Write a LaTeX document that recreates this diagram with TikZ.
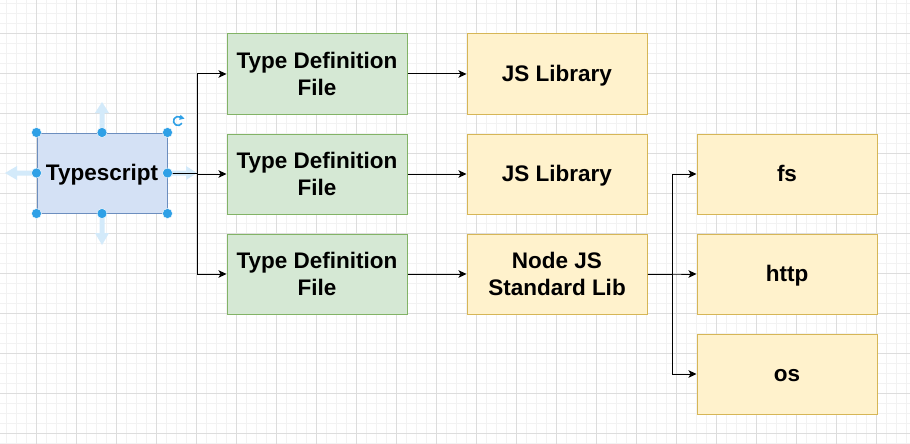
\documentclass[tikz,border=0pt]{standalone}
\usepackage{fontspec}
\setmainfont{Liberation Sans}
\usetikzlibrary{arrows.meta}
\definecolor{gridminor}{HTML}{F2F2F2}
\definecolor{gridmajor}{HTML}{DDDDDD}
\definecolor{bluefill}{HTML}{D4E1F5}
\definecolor{bluedraw}{HTML}{6C8EBF}
\definecolor{greenfill}{HTML}{D5E8D4}
\definecolor{greendraw}{HTML}{82B366}
\definecolor{yellowfill}{HTML}{FFF2CC}
\definecolor{yellowdraw}{HTML}{D6B656}
\definecolor{handle}{HTML}{2FA0E6}
\definecolor{palearrow}{HTML}{D3EAFA}
\newcommand{\mytopstrut}{\rule{0pt}{20.5pt}}
\newcommand{\mybotstrut}{\rule[-5pt]{0pt}{5pt}}
\tikzset{
  box/.style={rectangle, minimum width=180pt, minimum height=80pt, inner sep=0pt,
    line width=1pt, align=center,
    font=\bfseries\fontsize{22.5}{27.5}\selectfont},
  greenbox/.style={box, fill=greenfill, draw=greendraw},
  yellowbox/.style={box, fill=yellowfill, draw=yellowdraw},
  arr/.style={draw=black, line width=1pt, -{Stealth[length=8pt,width=7.5pt,inset=2pt]}},
  handledot/.style={circle, fill=handle, draw=white, line width=0.4pt, minimum size=10pt, inner sep=0pt},
  pale/.style={fill=palearrow, draw=none}
}
\begin{document}
\begin{tikzpicture}[x=1pt,y=-1pt]
\useasboundingbox (0,0) rectangle (910,444);
\fill[white] (0,0) rectangle (910,444);
% grid
\foreach \i in {0,...,91} {
  \draw[gridminor, line width=0.8pt] ({6.7+10*\i},0) -- ({6.7+10*\i},444);
}
\foreach \i in {0,...,44} {
  \draw[gridminor, line width=0.8pt] (0,{3.3+10*\i}) -- (910,{3.3+10*\i});
}
\foreach \i in {0,...,22} {
  \draw[gridmajor, line width=1pt] ({36.7+40*\i},0) -- ({36.7+40*\i},444);
}
\foreach \i in {0,...,11} {
  \draw[gridmajor, line width=1pt] (0,{33.3+40*\i}) -- (910,{33.3+40*\i});
}
% pale move arrows
\fill[pale] (99.5,130) -- (99.5,113) -- (95,113) -- (102,102) -- (109,113) -- (104.5,113) -- (104.5,130) -- cycle;
\fill[pale] (99.5,216) -- (99.5,233) -- (95,233) -- (102,245) -- (109,233) -- (104.5,233) -- (104.5,216) -- cycle;
\fill[pale] (34,170.5) -- (17,170.5) -- (17,166) -- (5,173) -- (17,180) -- (17,175.5) -- (34,175.5) -- cycle;
\fill[pale] (170,170.5) -- (186,170.5) -- (186,166) -- (197,173) -- (186,180) -- (186,175.5) -- (170,175.5) -- cycle;
% nodes
\node[box, minimum width=130pt, fill=bluefill, draw=bluedraw] (ts) at (102,173) {\mytopstrut Typescript\mybotstrut};
\node[greenbox] (g1) at (317,74) {\mytopstrut Type Definition\\File\mybotstrut};
\node[greenbox] (g2) at (317,174) {\mytopstrut Type Definition\\File\mybotstrut};
\node[greenbox] (g3) at (317,274) {\mytopstrut Type Definition\\File\mybotstrut};
\node[yellowbox] (j1) at (557,74) {\mytopstrut JS Library\mybotstrut};
\node[yellowbox] (j2) at (557,174) {\mytopstrut JS Library\mybotstrut};
\node[yellowbox] (nj) at (557,274) {\mytopstrut Node JS\\Standard Lib\mybotstrut};
\node[yellowbox] (fs) at (787,174) {\mytopstrut fs\mybotstrut};
\node[yellowbox] (http) at (787,274) {\mytopstrut http\mybotstrut};
\node[yellowbox] (os) at (787,374) {\mytopstrut os\mybotstrut};
% junctions
\coordinate (tsj) at (197,173);
\coordinate (njj) at (672,274);
% connectors
\draw[arr] (ts.east) -- (tsj) |- (g1.west);
\draw[arr] (ts.east) -- (tsj) |- (g2.west);
\draw[arr] (ts.east) -- (tsj) |- (g3.west);
\draw[arr] (g1.east) -- (j1.west);
\draw[arr] (g2.east) -- (j2.west);
\draw[arr] (g3.east) -- (nj.west);
\draw[arr] (nj.east) -- (njj) |- (fs.west);
\draw[arr] (nj.east) -- (njj) |- (http.west);
\draw[arr] (nj.east) -- (njj) |- (os.west);
% selection handles
\foreach \p in {north west, north, north east, west, east, south west, south, south east} {
  \node[handledot] at (ts.\p) {};
}
% rotate icon
\draw[handle, line width=1.6pt] (178,121) ++(60:4.5pt) arc[start angle=60, end angle=330, radius=4.5pt];
\fill[handle] (180.5,114.8) -- (184.5,118.6) -- (179.2,119.8) -- cycle;
\end{tikzpicture}
\end{document}
